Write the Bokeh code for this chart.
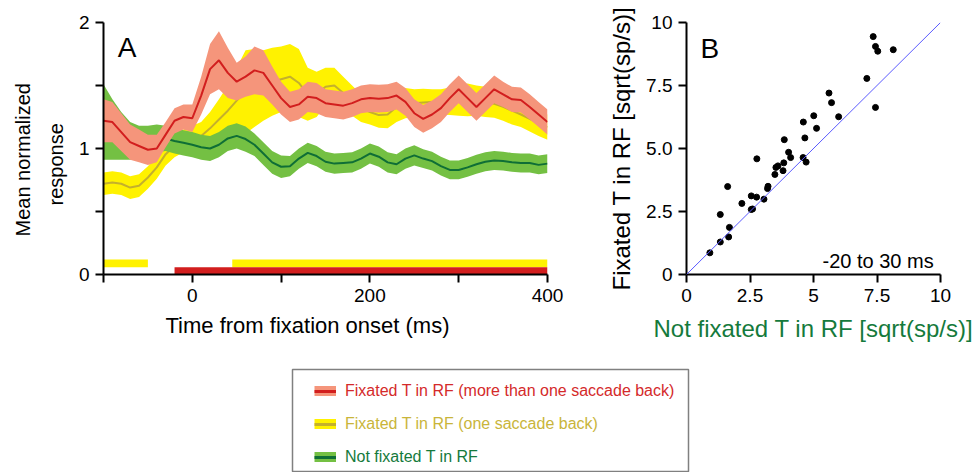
from bokeh.plotting import figure
from bokeh.layouts import column, row
from bokeh.models import (ColumnDataSource, FixedTicker, Range1d, Label, Legend,
                          LegendItem, Slope, Title)
from bokeh.embed import file_html
from bokeh.resources import INLINE

FONT = "Liberation Sans"

# ---------------- Panel A data ----------------
time_ms = list(range(-100, 401, 10))

red_mean = [1.22, 1.21, 1.13, 1.05, 1.02, 0.99, 1.00, 1.11, 1.22, 1.25,
            1.24, 1.42, 1.63, 1.70, 1.60, 1.53, 1.57, 1.62, 1.60, 1.50,
            1.40, 1.33, 1.35, 1.41, 1.40, 1.36, 1.35, 1.34, 1.36, 1.39,
            1.40, 1.395, 1.40, 1.42, 1.37, 1.28, 1.235, 1.27, 1.32, 1.40,
            1.47, 1.40, 1.33, 1.40, 1.47, 1.43, 1.39, 1.385, 1.33, 1.27, 1.21]
red_sem = [0.17, 0.16, 0.15, 0.14, 0.13, 0.12, 0.11, 0.10, 0.10, 0.10,
           0.11, 0.15, 0.20, 0.23, 0.20, 0.15, 0.16, 0.19, 0.18, 0.15,
           0.13, 0.12, 0.12, 0.12, 0.12, 0.11, 0.11, 0.11, 0.11, 0.11,
           0.11, 0.11, 0.11, 0.11, 0.11, 0.11, 0.11, 0.11, 0.11, 0.11,
           0.11, 0.11, 0.11, 0.11, 0.11, 0.10, 0.10, 0.10, 0.10, 0.10, 0.10]

yellow_mean = [0.72, 0.73, 0.72, 0.69, 0.705, 0.77, 0.85, 0.955, 1.02, 1.06,
               1.08, 1.10, 1.16, 1.23, 1.30, 1.38, 1.45, 1.48, 1.50, 1.53,
               1.55, 1.57, 1.52, 1.43, 1.43, 1.49, 1.50, 1.44, 1.38, 1.32,
               1.29, 1.265, 1.27, 1.33, 1.36, 1.36, 1.365, 1.37, 1.37, 1.375,
               1.38, 1.385, 1.38, 1.37, 1.355, 1.33, 1.30, 1.27, 1.235, 1.20, 1.17]
yellow_sem = [0.09, 0.09, 0.09, 0.09, 0.09, 0.09, 0.09, 0.09, 0.09, 0.09,
              0.10, 0.11, 0.13, 0.16, 0.20, 0.26, 0.33, 0.31, 0.28, 0.27,
              0.26, 0.26, 0.27, 0.21, 0.18, 0.15, 0.14, 0.13, 0.12, 0.11,
              0.10, 0.10, 0.11, 0.12, 0.12, 0.11, 0.11, 0.10, 0.10, 0.11,
              0.12, 0.13, 0.12, 0.12, 0.11, 0.11, 0.11, 0.10, 0.10, 0.10, 0.10]

green_mean = [1.21, 1.15, 1.10, 1.06, 1.05, 1.06, 1.08, 1.08, 1.06, 1.045,
              1.03, 1.01, 1.00, 1.03, 1.08, 1.10, 1.075, 1.03, 0.96, 0.89,
              0.855, 0.86, 0.92, 0.965, 0.94, 0.895, 0.88, 0.885, 0.89, 0.92,
              0.96, 0.935, 0.89, 0.875, 0.92, 0.945, 0.92, 0.90, 0.86, 0.83,
              0.83, 0.85, 0.875, 0.895, 0.905, 0.90, 0.89, 0.885, 0.885, 0.87, 0.88]
green_sem = [0.30, 0.24, 0.19, 0.15, 0.13, 0.12, 0.11, 0.10, 0.10, 0.10,
             0.10, 0.10, 0.10, 0.10, 0.10, 0.10, 0.10, 0.09, 0.09, 0.09,
             0.09, 0.08, 0.08, 0.08, 0.08, 0.08, 0.08, 0.08, 0.08, 0.08,
             0.08, 0.08, 0.08, 0.08, 0.08, 0.08, 0.075, 0.075, 0.075, 0.075,
             0.075, 0.075, 0.075, 0.075, 0.075, 0.075, 0.075, 0.075, 0.075, 0.075, 0.075]

# significance periods (ms)
sig_yellow_start = [-100, 45]
sig_yellow_end = [-50, 400]
sig_red_start = [-20]
sig_red_end = [400]

# ---------------- Panel B data ----------------
not_fixated = [7.35, 7.44, 7.53, 8.14, 7.10, 7.44, 5.61, 5.71, 5.99, 5.01,
               5.12, 4.60, 4.66, 3.85, 4.02, 4.10, 4.59, 4.71, 2.77, 3.60,
               3.52, 3.83, 3.80, 3.48, 3.21, 3.19, 1.62, 2.55, 2.76, 3.05,
               2.18, 2.55, 2.60, 1.33, 1.69, 1.66, 1.33, 0.92]
fixated = [9.44, 9.05, 8.86, 8.92, 7.78, 6.63, 7.20, 6.82, 6.26, 6.30,
           5.80, 6.05, 5.42, 5.35, 4.85, 4.64, 4.64, 4.46, 4.59, 4.31,
           4.25, 4.43, 4.12, 3.97, 3.50, 3.41, 3.49, 3.12, 3.07, 2.99,
           2.82, 2.58, 2.60, 2.38, 1.87, 1.49, 1.29, 0.86]

series_labels = ["Fixated T in RF (more than one saccade back)",
                 "Fixated T in RF (one saccade back)",
                 "Not fixated T in RF"]

RED_BAND, RED_LINE = "#f5957b", "#d21e1e"
YEL_BAND, YEL_LINE = "#fff200", "#c4b02c"
GRN_BAND, GRN_LINE = "#74c043", "#0f6e36"
RED_TEXT, YEL_TEXT, GRN_TEXT = "#d42a2a", "#c9b53a", "#157a3c"


def band_source(mean, sem):
    return ColumnDataSource(dict(
        t=time_ms, m=mean,
        lo=[a - b for a, b in zip(mean, sem)],
        hi=[a + b for a, b in zip(mean, sem)]))


def style_axes(p, tick_px, label_px):
    for ax in (p.xaxis[0], p.yaxis[0]):
        ax.axis_line_width = 2
        ax.axis_line_color = "black"
        ax.major_tick_line_width = 2
        ax.major_tick_out = 8
        ax.major_tick_in = 0
        ax.minor_tick_line_color = None
        ax.major_label_text_font = FONT
        ax.major_label_text_font_size = tick_px
        ax.major_label_text_color = "black"
        ax.major_label_standoff = 6
        ax.axis_label_text_font = FONT
        ax.axis_label_text_font_size = label_px
        ax.axis_label_text_font_style = "normal"
        ax.axis_label_text_color = "black"
        ax.axis_label_standoff = 10
    p.xgrid.visible = False
    p.ygrid.visible = False
    p.outline_line_color = None
    p.background_fill_color = None
    p.border_fill_color = None


def side_title(text, size, align, offset, standoff):
    return Title(text=text, align=align, offset=offset, standoff=standoff,
                 text_font=FONT, text_font_size=size, text_font_style="normal",
                 text_color="black")


# ---------------- Panel A ----------------
pA = figure(width=605, height=368, x_range=Range1d(-100, 400), y_range=Range1d(0, 2),
            output_backend="svg", toolbar_location=None,
            min_border_left=103, min_border_right=58, min_border_top=22, min_border_bottom=94)

src_r = band_source(red_mean, red_sem)
src_y = band_source(yellow_mean, yellow_sem)
src_g = band_source(green_mean, green_sem)

pA.varea(x="t", y1="lo", y2="hi", source=src_y, fill_color=YEL_BAND)
pA.line(x="t", y="m", source=src_y, line_color=YEL_LINE, line_width=2)
pA.varea(x="t", y1="lo", y2="hi", source=src_g, fill_color=GRN_BAND)
pA.line(x="t", y="m", source=src_g, line_color=GRN_LINE, line_width=2)
pA.varea(x="t", y1="lo", y2="hi", source=src_r, fill_color=RED_BAND)
pA.line(x="t", y="m", source=src_r, line_color=RED_LINE, line_width=2)

pA.quad(left=sig_yellow_start, right=sig_yellow_end, bottom=0.058, top=0.12,
        fill_color=YEL_BAND, line_color=None)
pA.quad(left=sig_red_start, right=sig_red_end, bottom=0.0, top=0.058,
        fill_color="#d21e1e", line_color=None)

style_axes(pA, "19px", "21px")
pA.xaxis[0].ticker = FixedTicker(ticks=[-100, 0, 100, 200, 300, 400], minor_ticks=[])
pA.xaxis[0].major_label_overrides = {-100: "", 100: "", 300: ""}
pA.yaxis[0].ticker = FixedTicker(ticks=[0, 0.5, 1, 1.5, 2], minor_ticks=[])
pA.yaxis[0].major_label_overrides = {0.5: "", 1.5: ""}
# axis titles as side titles (they sit off the frame centre in the reference)
pA.add_layout(side_title("Time from fixation onset (ms)", "22px", "left", 62, 12), "below")
pA.add_layout(side_title("response", "20px", "left", 69, 18), "left")
pA.add_layout(side_title("Mean normalized", "20px", "left", 38, 0), "left")
pA.add_layout(Label(x=-84, y=1.805, text="A", text_font=FONT, text_font_size="28px",
                    text_baseline="alphabetic", text_color="black"))

# ---------------- Panel B ----------------
pB = figure(width=372, height=368, x_range=Range1d(0, 10), y_range=Range1d(0, 10),
            output_backend="svg", toolbar_location=None,
            min_border_left=81, min_border_right=37, min_border_top=20, min_border_bottom=93)
pB.add_layout(Slope(gradient=1, y_intercept=0, line_color="#5a5aff", line_width=1))
pB.scatter(x=not_fixated, y=fixated, size=6, color="black")
style_axes(pB, "19px", "24px")
pB.xaxis[0].ticker = FixedTicker(ticks=[0, 2.5, 5, 7.5, 10], minor_ticks=[])
pB.xaxis[0].major_label_overrides = {0: "0", 2.5: "2.5", 5: "5", 7.5: "7.5", 10: "10"}
pB.yaxis[0].ticker = FixedTicker(ticks=[0, 2.5, 5, 7.5, 10], minor_ticks=[])
pB.yaxis[0].major_label_overrides = {0: "0", 2.5: "2.5", 5: "5.0", 7.5: "7.5", 10: "10"}
pB.xaxis[0].axis_label = "Not fixated T in RF [sqrt(sp/s)]"
pB.xaxis[0].axis_label_text_color = GRN_TEXT
pB.yaxis[0].axis_label = "Fixated T in RF [sqrt(sp/s)]"
pB.yaxis[0].axis_label_standoff = 8
pB.add_layout(Label(x=0.55, y=8.95, text="B", text_font=FONT, text_font_size="28px",
                    text_baseline="alphabetic", text_color="black"))
pB.add_layout(Label(x=9.73, y=0.52, text="-20 to 30 ms", text_font=FONT,
                    text_font_size="20px", text_align="right",
                    text_baseline="alphabetic", text_color="black"))

# ---------------- Legend box ----------------
# The legend figure shows no data itself (its y range lies far below the data);
# its renderers only supply the legend swatches.
pL = figure(width=977, height=104, x_range=Range1d(0, 1), y_range=Range1d(-20, -19),
            output_backend="svg", toolbar_location=None,
            x_axis_location=None, y_axis_location=None,
            min_border_left=292, min_border_right=289, min_border_top=1, min_border_bottom=0)
pL.xgrid.visible = False
pL.ygrid.visible = False
pL.outline_line_color = "#808080"
pL.outline_line_width = 1.5

styles = [(src_r, RED_BAND, RED_LINE, RED_TEXT), (src_y, YEL_BAND, YEL_LINE, YEL_TEXT),
          (src_g, GRN_BAND, GRN_LINE, GRN_TEXT)]
row_y = [71, 38, 5]
for label, (src, bc, lc, tc), ly in zip(series_labels, styles, row_y):
    rb = pL.line(x="t", y="m", source=src, line_color=bc, line_width=11)
    rl = pL.line(x="t", y="m", source=src, line_color=lc, line_width=3)
    leg = Legend(items=[LegendItem(label=label, renderers=[rb, rl])],
                 location=(22, ly), orientation="vertical",
                 glyph_width=22, glyph_height=10, label_height=20, label_standoff=9,
                 padding=0, margin=0, spacing=0,
                 border_line_color=None, background_fill_alpha=0,
                 label_text_font=FONT, label_text_font_size="16px",
                 label_text_color=tc)
    pL.add_layout(leg, "center")

layout = column(row(pA, pB, spacing=0), pL, spacing=0)

open("out.html", "w").write(file_html(layout, INLINE))
